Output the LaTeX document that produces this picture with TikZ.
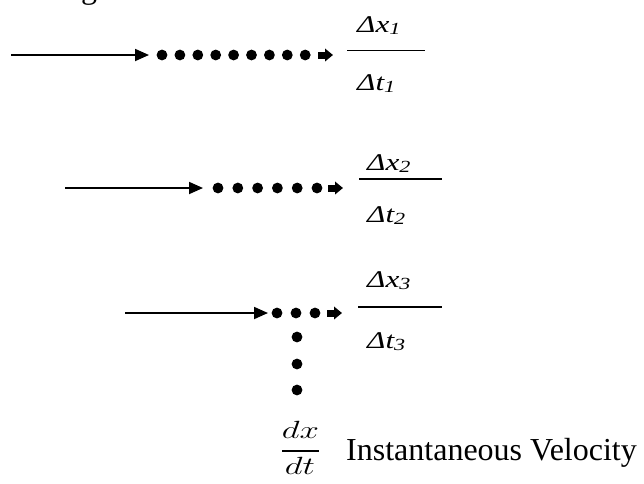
\documentclass[tikz,border=0pt]{standalone}
\usepackage{fontspec}
\setmainfont{Liberation Serif}
\newfontfamily\lblfont{Liberation Serif}[FakeStretch=1.3]
\usepackage{graphicx}
\usetikzlibrary{arrows.meta}
\newcommand\sbx[1]{\raisebox{-2.5pt}{\fontsize{17}{17}\selectfont #1}}
\tikzset{
  shaft/.style={line width=1.8pt, -{Triangle[length=14pt,width=12pt]}},
  bead/.style={circle, fill=black, inner sep=0pt, minimum size=10.8pt},
  blockarrow/.style={line width=7pt, -{Triangle[length=8pt,width=12.5pt]}},
  fracrule/.style={line width=1.8pt},
  lbl/.style={inner sep=0pt, anchor=base west, font=\fontsize{24}{24}\lblfont\itshape},
  bigtext/.style={inner sep=0pt, anchor=base west, font=\fontsize{32}{32}\selectfont},
  mathpart/.style={inner sep=0pt, anchor=base, font=\fontsize{26}{26}\selectfont},
}
\begin{document}
\begin{tikzpicture}[x=1pt,y=-1pt]
\useasboundingbox (0,0) rectangle (644,483);
% cut-off fragment at the top
\node[bigtext] (frag) at (81,-2) {g};
% ---- row 1
\coordinate (s1) at (11,55);
\coordinate (e1) at (149,55);
\draw[shaft] (s1) -- (e1);
\foreach \k in {0,...,8} \node[bead] (r1d\k) at ({162+17.9*\k},55) {};
\coordinate (b1s) at (318,55);
\coordinate (b1e) at (333,55);
\draw[blockarrow] (b1s) -- (b1e);
\coordinate (f1a) at (347,50.5);
\coordinate (f1b) at (425,50.5);
\draw[fracrule] (f1a) -- (f1b);
\node[lbl] (x1) at (357,32) {Δx\sbx{1}};
\node[lbl] (t1) at (357,90) {Δt\sbx{1}};
% ---- row 2
\coordinate (s2) at (65,188);
\coordinate (e2) at (203,188);
\draw[shaft] (s2) -- (e2);
\foreach \k in {0,...,5} \node[bead] (r2d\k) at ({218+19.8*\k},188) {};
\coordinate (b2s) at (328,188);
\coordinate (b2e) at (343,188);
\draw[blockarrow] (b2s) -- (b2e);
\coordinate (f2a) at (359,179);
\coordinate (f2b) at (442,179);
\draw[fracrule] (f2a) -- (f2b);
\node[lbl] (x2) at (367,170) {Δx\sbx{2}};
\node[lbl] (t2) at (367,222) {Δt\sbx{2}};
% ---- row 3
\coordinate (s3) at (125,313);
\coordinate (e3) at (268,313);
\draw[shaft] (s3) -- (e3);
\foreach \k in {0,...,2} \node[bead] (r3d\k) at ({277+19*\k},313) {};
\coordinate (b3s) at (327,313);
\coordinate (b3e) at (342,313);
\draw[blockarrow] (b3s) -- (b3e);
\coordinate (f3a) at (358,307);
\coordinate (f3b) at (442,307);
\draw[fracrule] (f3a) -- (f3b);
\node[lbl] (x3) at (367,287) {Δx\sbx{3}};
\node[lbl] (t3) at (367,348) {Δt\sbx{3}};
% vertical beads
\foreach \k/\yy in {0/337,1/364,2/390} \node[bead] (v\k) at (297,\yy) {};
% derivative dx/dt
\node[mathpart] (dx) at (300.5,438) {\scalebox{1.4}[1]{$dx$}};
\coordinate (ra) at (282,451);
\coordinate (rb) at (319,451);
\draw[fracrule] (ra) -- (rb);
\node[mathpart] (dt) at (300,474) {\scalebox{1.4}[1]{$dt$}};
\node[bigtext] (iv) at (346,460) {Instantaneous Velocity};
\end{tikzpicture}
\end{document}
